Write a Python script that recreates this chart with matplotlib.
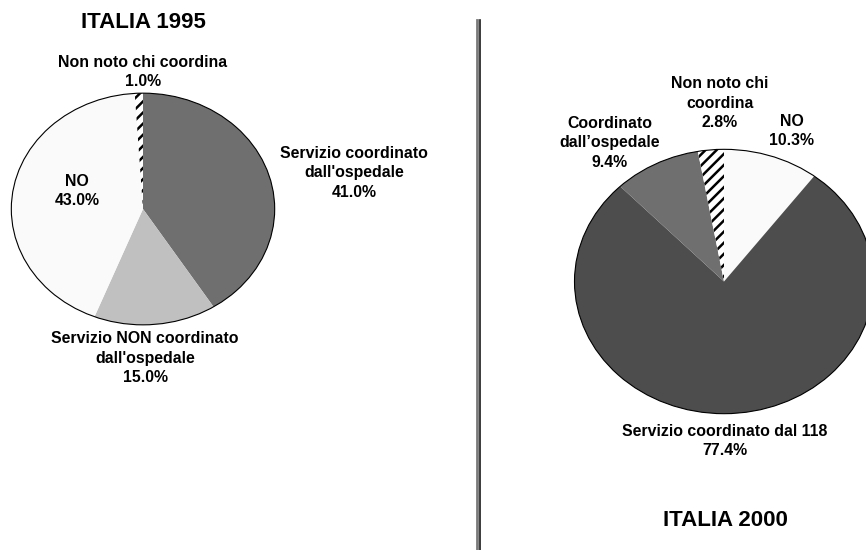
import matplotlib
matplotlib.use("Agg")
import matplotlib.pyplot as plt
from matplotlib.patches import Circle
from matplotlib.lines import Line2D

plt.rcParams['font.family'] = ['Liberation Sans', 'DejaVu Sans']
plt.rcParams['hatch.linewidth'] = 1.8

# dati
nomi_1995 = ["Servizio coordinato\ndall'ospedale", "Servizio NON coordinato\ndall'ospedale",
             "NO", "Non noto chi coordina"]
valori_1995 = [41.0, 15.0, 43.0, 1.0]
nomi_2000 = ["NO", "Servizio coordinato dal 118", "Coordinato\ndall\u2019ospedale",
             "Non noto chi\ncoordina"]
valori_2000 = [10.3, 77.4, 9.4, 2.8]

colori_1995 = ["#6f6f6f", "#c0c0c0", "#fafafa", "white"]
colori_2000 = ["#fafafa", "#4d4d4d", "#6f6f6f", "white"]
hatch_1995 = [None, None, None, "///"]
hatch_2000 = [None, None, None, "///"]

W, H = 866, 550
fig = plt.figure(figsize=(W / 100, H / 100), dpi=100)


def px_axes(x0, y0, x1, y1):
    # axes from pixel box (origin top-left)
    return fig.add_axes([x0 / W, 1 - y1 / H, (x1 - x0) / W, (y1 - y0) / H])


def torta(ax, valori, colori, hatches):
    wedges, _ = ax.pie(valori, colors=colori, startangle=90, counterclock=False,
                       radius=1, wedgeprops=dict(linewidth=0))
    for w, h in zip(wedges, hatches):
        if h:
            w.set_hatch(h)
            w.set_edgecolor("black")
            w.set_linewidth(0)
    ax.add_patch(Circle((0, 0), 1, fill=False, edgecolor="black", linewidth=0.8))
    ax.set_aspect("auto")
    ax.set_xlim(-1.01, 1.01)
    ax.set_ylim(-1.01, 1.01)
    ax.axis("off")


ax1 = px_axes(10, 92, 276, 326)
torta(ax1, valori_1995, colori_1995, hatch_1995)

ax2 = px_axes(573, 148, 875, 415)
torta(ax2, valori_2000, colori_2000, hatch_2000)


def testo(x, y, s, size=11.4):
    fig.text(x / W, 1 - y / H, s, ha="center", va="center", fontsize=size,
             fontweight="bold", linespacing=1.36)


def etichetta(nome, v):
    return f"{nome}\n{v:.1f}%"


testo(143, 22, "ITALIA 1995", size=16)
testo(143, 72, etichetta(nomi_1995[3], valori_1995[3]))
testo(354, 173, etichetta(nomi_1995[0], valori_1995[0]))
testo(77, 191, etichetta(nomi_1995[2], valori_1995[2]))
testo(145, 358, etichetta(nomi_1995[1], valori_1995[1]))

testo(720, 103, etichetta(nomi_2000[3], valori_2000[3]))
testo(610, 143, etichetta(nomi_2000[2], valori_2000[2]))
testo(792, 131, etichetta(nomi_2000[0], valori_2000[0]))
testo(725, 441, etichetta(nomi_2000[1], valori_2000[1]))
testo(725, 520, "ITALIA 2000", size=16)

# doppia linea divisoria
fig.add_artist(Line2D([477.3 / W] * 2, [0, 1 - 19.5 / H], color="#7a7a7a", linewidth=2.0))
fig.add_artist(Line2D([479.8 / W] * 2, [0, 1 - 19.5 / H], color="#1a1a1a", linewidth=1.2))

fig.savefig("out.png", dpi=100)
